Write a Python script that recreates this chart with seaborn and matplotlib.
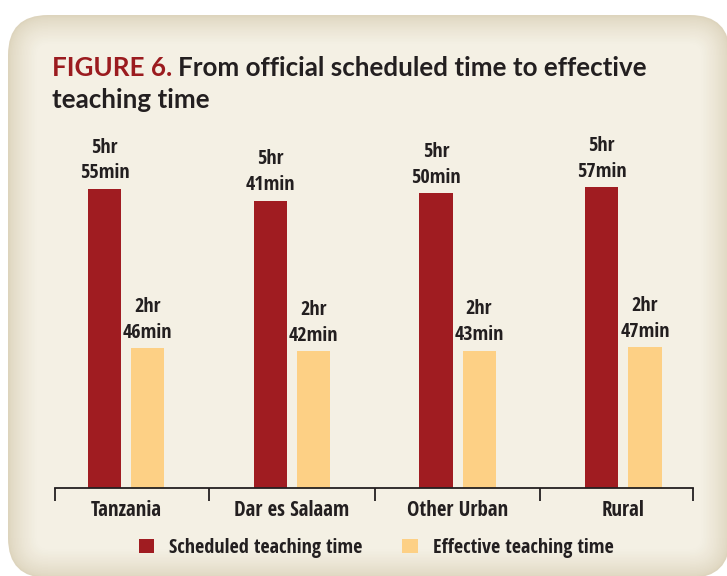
import numpy as np
import pandas as pd
import seaborn as sns
import matplotlib.pyplot as plt
from matplotlib.patches import FancyBboxPatch
from matplotlib.colors import to_rgb

# Data (minutes of teaching time per day)
regions = ["Tanzania", "Dar es Salaam", "Other Urban", "Rural"]
scheduled_min = [355, 341, 350, 357]
effective_min = [166, 162, 163, 167]
series = ["Scheduled teaching time", "Effective teaching time"]

df = pd.DataFrame({
    "region": regions * 2,
    "minutes": scheduled_min + effective_min,
    "series": [series[0]] * 4 + [series[1]] * 4,
})

red = "#A01C21"
orange = "#FDD085"
text_col = "#231F20"
title_red = "#9B1B1F"

sns.set_style("white")
plt.rcParams["font.family"] = ["Open Sans Condensed", "Liberation Sans Narrow", "DejaVu Sans"]
plt.rcParams["font.weight"] = "bold"
title_fam = ["Lato", "DejaVu Sans"]

W, H = 727, 576
fig = plt.figure(figsize=(W / 100, H / 100), dpi=100)
fig.patch.set_facecolor("white")

# beige rounded panel with soft darker edge
c_out = np.array(to_rgb("#DDD4BD"))
c_in = np.array(to_rgb("#F4F0E4"))
n = 20
for i in range(n):
    t = (i / (n - 1)) ** 0.7
    inset = i * 1.5
    col = c_out * (1 - t) + c_in * t
    x0, y0 = 8 + inset, 0 - 2 + inset
    x1, y1 = 730 - inset, 561 - inset
    fig.patches.append(FancyBboxPatch(
        (x0 / W, y0 / H), (x1 - x0) / W, (y1 - y0) / H,
        boxstyle="round,pad=0,rounding_size=%f" % (max(40 - inset, 8) / W),
        transform=fig.transFigure, facecolor=col, edgecolor="none",
        mutation_aspect=W / H, zorder=-1))

ax = fig.add_axes([55 / W, 1 - 488 / H, (693 - 55) / W, 348 / H])
ax.set_facecolor("none")

sns.barplot(data=df, x="region", y="minutes", hue="series",
            palette=[red, orange], width=0.52, gap=0.23,
            saturation=1, linewidth=0, edgecolor="none", ax=ax, legend=True)

ax.set_xlim(-0.428, 3.42)
ax.set_ylim(0, 413)

def fmt(m):
    return "%dhr\n%dmin" % (m // 60, m % 60)

for cont, vals in zip(ax.containers, [scheduled_min, effective_min]):
    ax.bar_label(cont, labels=[fmt(v) for v in vals], padding=4,
                 fontsize=14.5, fontweight="bold", color=text_col,
                 linespacing=1.38)

for s in ["left", "top", "right"]:
    ax.spines[s].set_visible(False)
ax.spines["bottom"].set_color(text_col)
ax.spines["bottom"].set_linewidth(1.3)
ax.set_yticks([])
ax.set_xlabel("")
ax.set_ylabel("")
ax.set_xticks(range(4))
ax.set_xticklabels(regions, fontsize=15, fontweight="bold", color=text_col)
ax.tick_params(axis="x", which="major", length=0, pad=9)
ax.set_xticks([-0.425, 0.5, 1.5, 2.5, 3.417], minor=True)
ax.tick_params(axis="x", which="minor", bottom=True, length=9, width=1.3,
               color=text_col, direction="out")

handles, labels = ax.get_legend_handles_labels()
ax.get_legend().remove()
leg = fig.legend(handles, labels, loc="center", ncol=2,
                 bbox_to_anchor=(376 / W, 1 - 548 / H), frameon=False,
                 fontsize=14.5, handlelength=0.75, handleheight=0.75,
                 columnspacing=2.0, handletextpad=0.75)
for t in leg.get_texts():
    t.set_color(text_col)
    t.set_fontweight("bold")

# title: first line should run from x=52 to about x=648
fs = 18
t1 = fig.text(52 / W, 1 - 76 / H, "FIGURE 6.", fontsize=fs,
              fontweight="bold", color=title_red, va="baseline",
              family=title_fam)
t2 = fig.text(0, 1 - 76 / H, "From official scheduled time to effective",
              fontsize=fs, fontweight="bold", color=text_col, va="baseline",
              family=title_fam)
fig.canvas.draw()
w_tot = t1.get_window_extent().width + 6 + t2.get_window_extent().width
fs = min(fs * 596 / w_tot, 19.5)
t1.set_fontsize(fs)
t2.set_fontsize(fs)
fig.canvas.draw()
t2.set_x((t1.get_window_extent().x1 + 6) / W)
fig.text(52 / W, 1 - 108 / H, "teaching time", fontsize=fs,
         fontweight="bold", color=text_col, va="baseline", family=title_fam)

plt.savefig("out.png", dpi=100)
